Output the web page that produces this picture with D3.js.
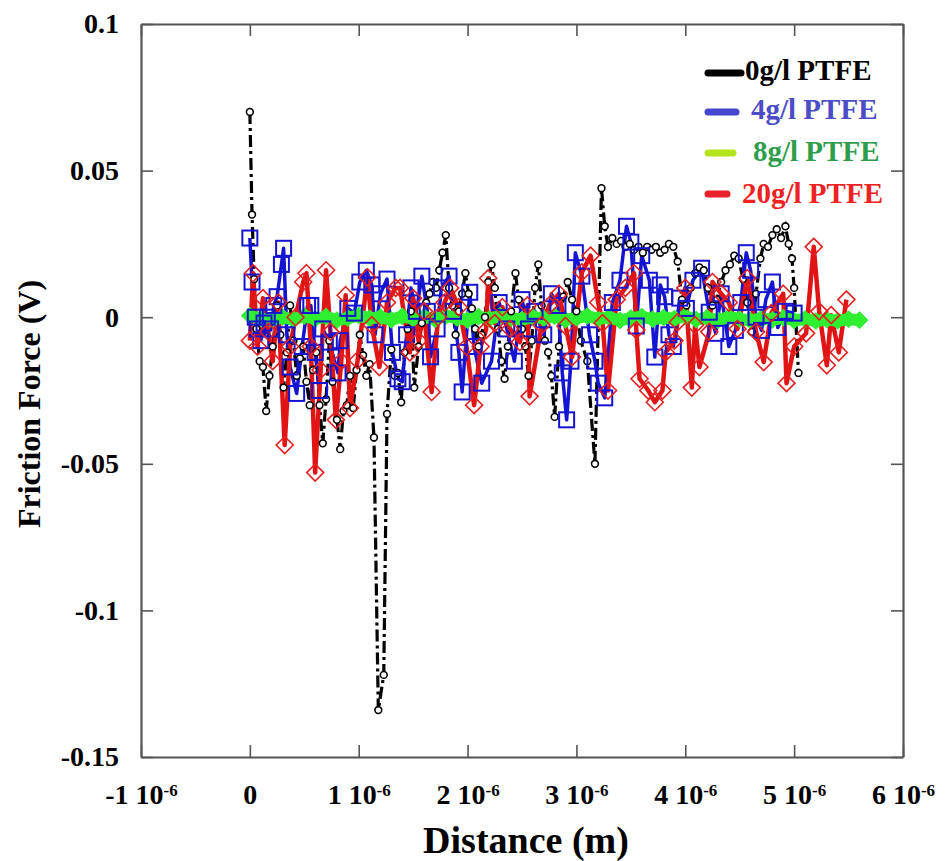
<!DOCTYPE html>
<html>
<head>
<meta charset="utf-8">
<script src="https://cdn.jsdelivr.net/npm/d3@7"></script>
<style>
  html, body { margin: 0; padding: 0; background: #fff; }
  svg { display: block; }
</style>
</head>
<body>
<svg id="chart" width="945" height="861"></svg>
<script>
// Friction force vs sliding distance for four PTFE concentrations.
// Each series: [distance in micrometres, friction force in volts]
const ptfe0 = [[0.00,0.070],[0.02,0.035],[0.04,0.013],[0.06,-0.004],[0.09,-0.015],[0.12,-0.017],[0.15,-0.032],[0.18,-0.020],[0.21,-0.010],[0.25,0.004],[0.28,-0.006],[0.31,-0.024],[0.34,-0.012],[0.37,0.004],[0.40,-0.008],[0.43,-0.020],[0.46,-0.014],[0.49,-0.010],[0.52,-0.022],[0.55,-0.030],[0.58,-0.018],[0.61,-0.012],[0.64,-0.030],[0.67,-0.043],[0.70,-0.028],[0.73,-0.008],[0.76,-0.022],[0.80,-0.035],[0.83,-0.045],[0.86,-0.032],[0.89,-0.030],[0.92,-0.020],[0.95,-0.031],[0.98,-0.018],[1.01,-0.006],[1.04,-0.013],[1.07,-0.020],[1.10,-0.016],[1.14,-0.041],[1.18,-0.134],[1.23,-0.122],[1.26,-0.033],[1.30,-0.011],[1.33,-0.020],[1.36,-0.019],[1.39,-0.029],[1.42,-0.012],[1.45,-0.004],[1.48,0.002],[1.51,-0.024],[1.55,-0.010],[1.58,-0.002],[1.62,0.005],[1.65,0.008],[1.68,0.012],[1.71,0.010],[1.74,0.016],[1.77,0.022],[1.80,0.028],[1.83,0.010],[1.86,0.004],[1.89,-0.006],[1.92,0.002],[1.95,0.008],[1.98,0.015],[2.01,0.008],[2.04,0.003],[2.07,-0.004],[2.10,-0.010],[2.13,-0.006],[2.16,0.000],[2.19,0.012],[2.22,0.018],[2.25,0.010],[2.28,-0.004],[2.31,-0.015],[2.34,-0.021],[2.37,-0.010],[2.40,0.002],[2.44,0.015],[2.47,0.006],[2.50,-0.004],[2.53,-0.010],[2.56,-0.020],[2.59,-0.008],[2.62,0.010],[2.65,0.018],[2.68,0.004],[2.71,-0.008],[2.74,-0.012],[2.77,-0.020],[2.80,-0.034],[2.84,-0.010],[2.88,0.007],[2.92,0.012],[2.96,0.006],[3.00,0.002],[3.04,-0.008],[3.10,-0.015],[3.17,-0.050],[3.23,0.044],[3.26,0.031],[3.29,0.024],[3.33,0.027],[3.37,0.025],[3.41,0.026],[3.45,0.024],[3.49,0.025],[3.53,0.023],[3.57,0.024],[3.61,0.022],[3.65,0.024],[3.69,0.023],[3.73,0.024],[3.77,0.022],[3.81,0.023],[3.85,0.025],[3.89,0.024],[3.93,0.019],[3.97,0.006],[4.01,0.004],[4.05,0.010],[4.09,0.015],[4.13,0.017],[4.17,0.016],[4.21,0.010],[4.25,0.004],[4.29,0.006],[4.33,0.012],[4.37,0.016],[4.41,0.018],[4.45,0.021],[4.49,0.020],[4.53,0.013],[4.57,0.005],[4.61,-0.005],[4.65,0.008],[4.69,0.020],[4.72,0.025],[4.76,0.024],[4.80,0.028],[4.84,0.030],[4.88,0.027],[4.92,0.031],[4.95,0.025],[4.98,0.020],[5.00,0.010],[5.04,-0.019]];

const ptfe4 = [[0.00,0.027],[0.02,0.012],[0.05,0.000],[0.07,-0.004],[0.10,-0.008],[0.13,-0.002],[0.16,0.000],[0.19,-0.004],[0.22,0.004],[0.25,0.007],[0.29,0.018],[0.31,0.0235],[0.34,-0.006],[0.37,-0.017],[0.43,-0.026],[0.48,-0.010],[0.53,0.004],[0.56,0.004],[0.60,-0.012],[0.64,-0.025],[0.67,-0.004],[0.73,-0.0085],[0.81,-0.019],[0.83,-0.008],[0.90,0.003],[0.96,0.0014],[1.01,0.012],[1.07,0.016],[1.12,0.011],[1.15,-0.006],[1.20,0.008],[1.26,0.013],[1.31,-0.012],[1.36,-0.021],[1.40,-0.022],[1.44,-0.006],[1.48,0.010],[1.53,0.002],[1.58,0.014],[1.63,0.002],[1.66,-0.0135],[1.72,-0.004],[1.76,0.010],[1.83,0.014],[1.87,0.002],[1.92,-0.012],[1.95,-0.0255],[2.02,0.0085],[2.06,-0.010],[2.13,-0.0225],[2.22,-0.015],[2.29,0.005],[2.36,-0.004],[2.43,-0.015],[2.50,0.006],[2.56,-0.004],[2.62,0.002],[2.70,-0.006],[2.77,0.008],[2.83,0.004],[2.87,-0.019],[2.91,-0.035],[2.95,-0.015],[2.99,0.022],[3.05,0.014],[3.12,-0.006],[3.17,-0.015],[3.20,-0.0225],[3.26,-0.0275],[3.33,0.005],[3.40,0.0126],[3.46,0.031],[3.50,0.0256],[3.55,-0.003],[3.60,0.021],[3.67,0.0126],[3.72,-0.0136],[3.77,0.011],[3.81,0.007],[3.85,-0.006],[3.89,-0.010],[3.95,0.0065],[4.01,0.003],[4.07,0.0126],[4.15,0.0167],[4.22,0.0017],[4.28,-0.0055],[4.33,0.008],[4.40,-0.010],[4.46,-0.0045],[4.51,0.005],[4.56,0.022],[4.60,0.016],[4.65,0.000],[4.70,-0.0045],[4.74,0.006],[4.80,0.012],[4.85,-0.0035],[4.92,0.002],[5.00,0.0014]];

const ptfe8 = [[0.0,0.0005],[0.1,-0.0005],[0.2,-0.0010],[0.3,0.0000],[0.4,-0.0008],[0.5,0.0004],[0.6,-0.0006],[0.7,0.0002],[0.8,-0.0010],[0.9,-0.0003],[1.0,0.0006],[1.1,-0.0004],[1.2,0.0000],[1.3,-0.0009],[1.4,0.0003],[1.5,-0.0005],[1.6,0.0001],[1.7,-0.0007],[1.8,0.0004],[1.9,-0.0002],[2.0,-0.0010],[2.1,0.0002],[2.2,-0.0006],[2.3,0.0005],[2.4,-0.0003],[2.5,-0.0008],[2.6,0.0001],[2.7,-0.0004],[2.8,0.0003],[2.9,-0.0009],[3.0,-0.0002],[3.1,0.0004],[3.2,-0.0006],[3.3,0.0000],[3.4,-0.0011],[3.5,-0.0003],[3.6,0.0002],[3.7,-0.0007],[3.8,-0.0001],[3.9,-0.0005],[4.0,0.0003],[4.1,-0.0008],[4.2,-0.0002],[4.3,-0.0010],[4.4,0.0001],[4.5,-0.0006],[4.6,-0.0012],[4.7,-0.0004],[4.8,-0.0009],[4.9,-0.0002],[5.0,-0.0011],[5.1,-0.0006],[5.2,-0.0013],[5.3,-0.0008],[5.4,-0.0012],[5.5,-0.0007],[5.6,-0.0010]];

const ptfe20 = [[0.00,-0.008],[0.03,0.015],[0.07,-0.010],[0.12,0.0065],[0.17,-0.005],[0.21,-0.015],[0.26,0.005],[0.32,-0.0436],[0.37,-0.010],[0.42,0.000],[0.49,0.012],[0.52,0.015],[0.56,-0.010],[0.60,-0.053],[0.65,-0.018],[0.70,0.016],[0.74,-0.005],[0.79,-0.035],[0.84,-0.015],[0.88,0.0075],[0.92,-0.031],[0.99,-0.0147],[1.08,0.0136],[1.12,-0.0027],[1.19,-0.017],[1.26,0.005],[1.34,0.010],[1.38,0.010],[1.47,-0.012],[1.50,0.0065],[1.55,-0.008],[1.60,0.002],[1.67,-0.0255],[1.73,0.000],[1.79,0.005],[1.84,0.010],[1.92,0.0034],[1.99,-0.010],[2.06,-0.030],[2.12,-0.010],[2.17,-0.0044],[2.19,0.0133],[2.25,-0.002],[2.32,0.0034],[2.39,-0.004],[2.48,-0.0085],[2.55,0.004],[2.57,-0.027],[2.68,-0.0027],[2.75,0.004],[2.84,0.008],[2.90,-0.003],[2.96,-0.0136],[3.05,0.0153],[3.13,0.021],[3.20,0.005],[3.24,-0.002],[3.29,-0.025],[3.37,0.006],[3.45,0.010],[3.53,0.015],[3.55,-0.0044],[3.58,-0.021],[3.66,-0.025],[3.72,-0.029],[3.79,-0.025],[3.82,-0.012],[3.90,-0.008],[3.93,-0.0017],[4.00,0.010],[4.06,-0.024],[4.09,-0.0027],[4.13,-0.017],[4.22,-0.005],[4.25,0.012],[4.33,0.008],[4.40,0.005],[4.48,-0.004],[4.57,0.0133],[4.65,-0.005],[4.72,-0.0153],[4.79,0.0014],[4.90,0.008],[4.93,-0.0225],[5.00,-0.010],[5.11,-0.0055],[5.18,0.024],[5.23,0.002],[5.30,-0.0164],[5.34,0.0007],[5.41,-0.012],[5.48,0.006]];

const seriesLabels = ["0g/l PTFE", "4g/l PTFE", "8g/l PTFE", "20g/l PTFE"];
const xTickValues = [-1, 0, 1, 2, 3, 4, 5, 6];          // micrometres
const yTickValues = [0.1, 0.05, 0, -0.05, -0.1, -0.15]; // volts
const xTitle = "Distance (m)";
const yTitle = "Friction Force (V)";

const MICRO = 1e-6;
const FONT = "'Liberation Serif', 'Times New Roman', Times, serif";
const svg = d3.select("#chart");

const plot = { left: 141, right: 903, top: 24, bottom: 757 };
const x = d3.scaleLinear().domain([-1 * MICRO, 6 * MICRO]).range([plot.left, plot.right]);
const y = d3.scaleLinear().domain([-0.15, 0.1]).range([plot.bottom, plot.top]);

const frameColor = "#555";

// ---- axes (ticks point inward on all four sides) ----
const xTicksM = xTickValues.map(v => v * MICRO);

const gBottom = svg.append("g").attr("transform", `translate(0,${plot.bottom})`)
  .call(d3.axisBottom(x).tickValues(xTicksM).tickSizeInner(-12).tickSizeOuter(0).tickPadding(27));
const gTop = svg.append("g").attr("transform", `translate(0,${plot.top})`)
  .call(d3.axisTop(x).tickValues(xTicksM).tickSizeInner(-12).tickSizeOuter(0).tickFormat(""));
const gLeft = svg.append("g").attr("transform", `translate(${plot.left},0)`)
  .call(d3.axisLeft(y).tickValues(yTickValues).tickSizeInner(-12).tickSizeOuter(0).tickPadding(22).tickFormat(d => String(d)));
const gRight = svg.append("g").attr("transform", `translate(${plot.right},0)`)
  .call(d3.axisRight(y).tickValues(yTickValues).tickSizeInner(-12).tickSizeOuter(0).tickFormat(""));

[gBottom, gTop, gLeft, gRight].forEach(g => {
  g.attr("font-family", null).attr("font-size", null);
  g.select(".domain").attr("stroke", frameColor).attr("stroke-width", 2.2);
  g.selectAll(".tick line").attr("stroke", frameColor).attr("stroke-width", 1.6);
  g.selectAll(".tick text").attr("fill", "#000")
    .style("font-family", FONT).style("font-weight", "bold").style("font-size", "28px");
});

// x labels in "n 10^-6" notation
gBottom.selectAll(".tick text").each(function (d) {
  const n = Math.round(d / MICRO);
  const t = d3.select(this).text(null);
  if (n === 0) { t.text("0"); return; }
  t.append("tspan").text(`${n} 10`);
  t.append("tspan").attr("dy", "-0.45em").style("font-size", "17px").text("-6");
});

// ---- axis titles ----
svg.append("text")
  .attr("x", 526).attr("y", 853)
  .attr("text-anchor", "middle").attr("fill", "#000")
  .style("font-family", FONT).style("font-weight", "bold").style("font-size", "38px")
  .text(xTitle);
svg.append("text")
  .attr("transform", `translate(40,404) rotate(-90)`)
  .attr("text-anchor", "middle").attr("fill", "#000")
  .style("font-family", FONT).style("font-weight", "bold").style("font-size", "32px")
  .text(yTitle);

// ---- series: all connecting lines first, then the markers ----
const line = d3.line().x(d => x(d[0] * MICRO)).y(d => y(d[1]));
const diamond = r => `M0,${-r}L${r},0L0,${r}L${-r},0Z`;
const linesG = svg.append("g");
const marksG = svg.append("g");

// 0 g/l: black dash-dot line
linesG.append("path").datum(ptfe0).attr("d", line)
  .attr("fill", "none").attr("stroke", "#000").attr("stroke-width", 3.2)
  .attr("stroke-dasharray", "12,4,3,4");
// 4 g/l: blue solid line
linesG.append("path").datum(ptfe4).attr("d", line)
  .attr("fill", "none").attr("stroke", "#1414d2").attr("stroke-width", 3.5).attr("stroke-linejoin", "round");
// 20 g/l: red solid line
linesG.append("path").datum(ptfe20).attr("d", line)
  .attr("fill", "none").attr("stroke", "#e01414").attr("stroke-width", 4.5).attr("stroke-linejoin", "round");
// 8 g/l: thick green band
linesG.append("path").datum(ptfe8).attr("d", line)
  .attr("fill", "none").attr("stroke", "#2ef02e").attr("stroke-width", 12).attr("stroke-linejoin", "round");

// markers
marksG.append("g").selectAll("path").data(ptfe8).join("path")
  .attr("transform", d => `translate(${x(d[0] * MICRO)},${y(d[1])})`)
  .attr("d", diamond(8.5)).attr("fill", "#2ef02e").attr("stroke", "#3be83b").attr("stroke-width", 1);
marksG.append("g").selectAll("circle").data(ptfe0).join("circle")
  .attr("cx", d => x(d[0] * MICRO)).attr("cy", d => y(d[1])).attr("r", 3.4)
  .attr("fill", "#fff").attr("stroke", "#000").attr("stroke-width", 1.6);
marksG.append("g").selectAll("rect").data(ptfe4).join("rect")
  .attr("x", d => x(d[0] * MICRO) - 7.5).attr("y", d => y(d[1]) - 7.5)
  .attr("width", 15).attr("height", 15)
  .attr("fill", "none").attr("stroke", "#1414d2").attr("stroke-width", 2);
marksG.append("g").selectAll("path").data(ptfe20).join("path")
  .attr("transform", d => `translate(${x(d[0] * MICRO)},${y(d[1])})`)
  .attr("d", diamond(8.5)).attr("fill", "none").attr("stroke", "#e62020").attr("stroke-width", 1.6);

// ---- legend ----
const legendItems = [
  { label: seriesLabels[0], line: "#000000", text: "#000000", x1: 708, x2: 741, ly: 73, tx: 745, ty: 80 },
  { label: seriesLabels[1], line: "#4646d2", text: "#4c4cc8", x1: 708, x2: 736, ly: 112, tx: 751, ty: 119 },
  { label: seriesLabels[2], line: "#b4e41c", text: "#2f9e4c", x1: 708, x2: 733, ly: 153, tx: 753, ty: 161 },
  { label: seriesLabels[3], line: "#e8202a", text: "#ee2222", x1: 708, x2: 727, ly: 194, tx: 742, ty: 203 }
];
const lg = svg.append("g");
legendItems.forEach(it => {
  lg.append("line").attr("x1", it.x1).attr("x2", it.x2).attr("y1", it.ly).attr("y2", it.ly)
    .attr("stroke", it.line).attr("stroke-width", 7).attr("stroke-linecap", "round");
  lg.append("text").attr("x", it.tx).attr("y", it.ty).attr("fill", it.text)
    .style("font-family", FONT).style("font-weight", "bold").style("font-size", "29px")
    .text(it.label);
});
</script>
</body>
</html>
